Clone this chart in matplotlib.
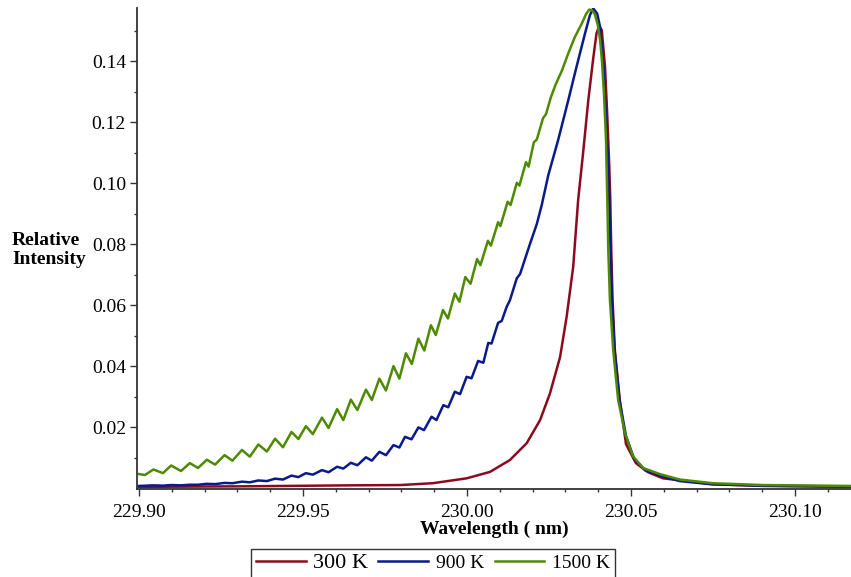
import matplotlib
matplotlib.use('Agg')
import matplotlib.pyplot as plt
from matplotlib.ticker import MultipleLocator, FormatStrFormatter

# values (wavelength in nm, relative intensity)
red_wl = [229.9000, 229.9338, 229.9643, 229.9796, 229.9896, 229.9999, 230.0070, 230.0131, 230.0182,
          230.0223, 230.0253, 230.0284, 230.0304, 230.0324, 230.0339, 230.0355, 230.0370, 230.0385,
          230.0395, 230.0403, 230.0411, 230.0421, 230.0428, 230.0434, 230.0437, 230.0440, 230.0444,
          230.0451, 230.0466, 230.0485, 230.0515, 230.0552, 230.0598, 230.0750, 230.0902, 230.1171]
red_int = [0.0004, 0.0006, 0.0009, 0.0010, 0.0016, 0.0032, 0.0053, 0.0092, 0.0147, 0.0223,
           0.0310, 0.0430, 0.0562, 0.0726, 0.0944, 0.1108, 0.1272, 0.1409, 0.1491, 0.1515,
           0.1502, 0.1381, 0.1217, 0.1053, 0.0944, 0.0780, 0.0616, 0.0452, 0.0289, 0.0144,
           0.0082, 0.0052, 0.0032, 0.0013, 0.0007, 0.0004]

blue_wl = [229.9000, 229.9044, 229.9073, 229.9098, 229.9128, 229.9155, 229.9180, 229.9207, 229.9232,
           229.9261, 229.9285, 229.9314, 229.9338, 229.9364, 229.9390, 229.9415, 229.9439, 229.9465,
           229.9486, 229.9509, 229.9530, 229.9558, 229.9578, 229.9604, 229.9623, 229.9646, 229.9666,
           229.9692, 229.9710, 229.9733, 229.9753, 229.9776, 229.9794, 229.9811, 229.9831, 229.9852,
           229.9869, 229.9892, 229.9907, 229.9928, 229.9943, 229.9963, 229.9979, 229.9999, 230.0014,
           230.0034, 230.0050, 230.0065, 230.0075, 230.0095, 230.0106, 230.0121, 230.0131, 230.0152,
           230.0162, 230.0180, 230.0192, 230.0213, 230.0228, 230.0248, 230.0278, 230.0309, 230.0334,
           230.0360, 230.0375, 230.0385, 230.0397, 230.0406, 230.0416, 230.0424, 230.0431, 230.0434,
           230.0438, 230.0442, 230.0450, 230.0465, 230.0485, 230.0509, 230.0543, 230.0588, 230.0649,
           230.0750, 230.0902, 230.1171]
blue_int = [0.0007, 0.0009, 0.0008, 0.0010, 0.0009, 0.0011, 0.0011, 0.0014, 0.0013, 0.0017,
            0.0016, 0.0021, 0.0019, 0.0025, 0.0023, 0.0031, 0.0028, 0.0041, 0.0036, 0.0049,
            0.0044, 0.0059, 0.0052, 0.0070, 0.0064, 0.0083, 0.0075, 0.0101, 0.0090, 0.0119,
            0.0108, 0.0141, 0.0133, 0.0168, 0.0160, 0.0199, 0.0190, 0.0234, 0.0223, 0.0272,
            0.0265, 0.0316, 0.0308, 0.0365, 0.0360, 0.0417, 0.0411, 0.0476, 0.0474, 0.0542,
            0.0548, 0.0594, 0.0616, 0.0688, 0.0702, 0.0761, 0.0800, 0.0866, 0.0928, 0.1026,
            0.1141, 0.1272, 0.1381, 0.1491, 0.1551, 0.1573, 0.1556, 0.1512, 0.1381, 0.1217,
            0.1053, 0.0944, 0.0780, 0.0616, 0.0452, 0.0289, 0.0170, 0.0098, 0.0059, 0.0041,
            0.0023, 0.0012, 0.0008, 0.0005]

green_wl = [229.9000, 229.9018, 229.9044, 229.9073, 229.9098, 229.9128, 229.9155, 229.9180, 229.9207,
            229.9232, 229.9261, 229.9285, 229.9314, 229.9338, 229.9364, 229.9390, 229.9415, 229.9439,
            229.9465, 229.9486, 229.9509, 229.9530, 229.9558, 229.9578, 229.9604, 229.9623, 229.9646,
            229.9666, 229.9692, 229.9710, 229.9733, 229.9753, 229.9776, 229.9794, 229.9814, 229.9832,
            229.9852, 229.9870, 229.9890, 229.9905, 229.9927, 229.9942, 229.9963, 229.9977, 229.9995,
            230.0011, 230.0031, 230.0041, 230.0064, 230.0073, 230.0095, 230.0102, 230.0124, 230.0133,
            230.0152, 230.0160, 230.0180, 230.0188, 230.0204, 230.0213, 230.0232, 230.0241, 230.0256,
            230.0271, 230.0290, 230.0308, 230.0329, 230.0351, 230.0363, 230.0373, 230.0381, 230.0390,
            230.0399, 230.0406, 230.0412, 230.0418, 230.0424, 230.0428, 230.0431, 230.0436, 230.0446,
            230.0461, 230.0482, 230.0506, 230.0537, 230.0588, 230.0649, 230.0750, 230.0902, 230.1171]
green_int = [0.0046, 0.0043, 0.0061, 0.0049, 0.0074, 0.0056, 0.0082, 0.0066, 0.0093, 0.0077,
             0.0108, 0.0090, 0.0125, 0.0103, 0.0143, 0.0120, 0.0162, 0.0134, 0.0184, 0.0161,
             0.0203, 0.0177, 0.0231, 0.0197, 0.0259, 0.0223, 0.0290, 0.0256, 0.0323, 0.0289,
             0.0359, 0.0320, 0.0400, 0.0359, 0.0442, 0.0407, 0.0490, 0.0451, 0.0534, 0.0502,
             0.0584, 0.0556, 0.0638, 0.0611, 0.0692, 0.0670, 0.0751, 0.0731, 0.0811, 0.0795,
             0.0872, 0.0859, 0.0939, 0.0928, 0.1001, 0.0992, 0.1069, 0.1054, 0.1134, 0.1143,
             0.1213, 0.1226, 0.1282, 0.1325, 0.1370, 0.1423, 0.1479, 0.1525, 0.1554, 0.1569,
             0.1567, 0.1554, 0.1518, 0.1469, 0.1397, 0.1289, 0.1141, 0.0944, 0.0780, 0.0616,
             0.0452, 0.0289, 0.0180, 0.0105, 0.0066, 0.0046, 0.0028, 0.0016, 0.0010, 0.0007]

y_major = [0.02, 0.04, 0.06, 0.08, 0.10, 0.12, 0.14]
y_minor = [0.01, 0.03, 0.05, 0.07, 0.09, 0.11, 0.13, 0.15]

plt.rcParams['font.family'] = ['Liberation Serif', 'DejaVu Serif']

fig = plt.figure(figsize=(8.51, 5.77), dpi=100)
ax = fig.add_axes([0.161, 0.1525, 0.839, 0.8335])

ax.plot(red_wl, red_int, color='#8C0A1E', lw=1.8, label='300 K')
ax.plot(blue_wl, blue_int, color='#0A1A8C', lw=1.8, label='900 K')
ax.plot(green_wl, green_int, color='#4E8A00', lw=1.8, label='1500 K')

ax.set_xlim(229.8994, 230.1171)
ax.set_ylim(-0.0003, 0.1574)

ax.spines['top'].set_visible(False)
ax.spines['right'].set_visible(False)
for s in ['left', 'bottom']:
    ax.spines[s].set_color('#333333')
    ax.spines[s].set_linewidth(1.3)

ax.xaxis.set_major_locator(MultipleLocator(0.05))
ax.xaxis.set_minor_locator(MultipleLocator(0.01))
ax.xaxis.set_major_formatter(FormatStrFormatter('%.2f'))
ax.set_yticks(y_major)
ax.set_yticklabels(['%.2f' % v for v in y_major])
ax.set_yticks(y_minor, minor=True)

ax.tick_params(which='major', length=5, width=1, direction='out', labelsize=14, color='#333333')
ax.tick_params(which='minor', length=2.5, width=1, direction='out', color='#333333')
ax.tick_params(axis='y', which='major', pad=3)
ax.tick_params(axis='x', which='major', pad=5.5)

ax.set_xlabel('Wavelength ( nm)', fontweight='bold', fontsize=14, labelpad=0)
fig.text(0.014, 0.567, 'Relative\nIntensity', fontweight='bold', fontsize=14,
         ha='left', va='center', linespacing=1.15)

leg = ax.legend(loc='upper center', bbox_to_anchor=(433 / 851, 28 / 577),
                bbox_transform=fig.transFigure, ncol=3, frameon=True, fancybox=False,
                edgecolor='black', fontsize=14, handlelength=2.57, handletextpad=0.41,
                columnspacing=0.51, borderpad=0.25, borderaxespad=0)
leg.get_frame().set_linewidth(1.0)
leg.get_texts()[0].set_fontsize(16)

fig.savefig('out.png', dpi=100)
